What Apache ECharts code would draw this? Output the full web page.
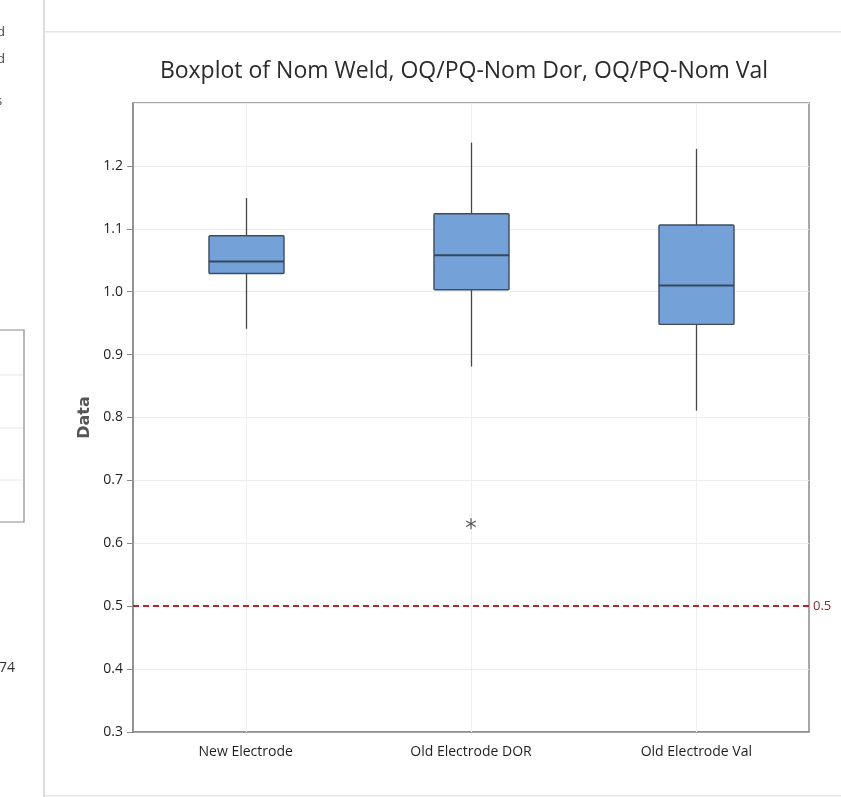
<!DOCTYPE html>
<html>
<head>
<meta charset="utf-8">
<script src="https://cdn.jsdelivr.net/npm/echarts@6/dist/echarts.min.js"></script>
<style>
html,body{margin:0;padding:0;background:#fff;}
#chart{width:841px;height:797px;}
</style>
</head>
<body>
<div id="chart"></div>
<script>
// ---- data ----
const categories = ['New Electrode', 'Old Electrode DOR', 'Old Electrode Val'];
// [lower whisker, Q1, median, Q3, upper whisker]
const newElectrode = [0.941, 1.029, 1.048, 1.089, 1.149];
const oldElectrodeDOR = [0.881, 1.003, 1.058, 1.124, 1.237];
const oldElectrodeVal = [0.811, 0.948, 1.010, 1.106, 1.227];
const outlierCategories = ['Old Electrode DOR'];
const outlierValues = [0.631];
const referenceValue = 0.5;
const yTicks = [0.3, 0.4, 0.5, 0.6, 0.7, 0.8, 0.9, 1.0, 1.1, 1.2];
const titleText = 'Boxplot of Nom Weld, OQ/PQ-Nom Dor, OQ/PQ-Nom Val';
const sideFragments = ['d', 'd', 's', '74'];

const boxStats = [newElectrode, oldElectrodeDOR, oldElectrodeVal];
const boxData = boxStats.map((s, i) => [i].concat(s));
const outlierData = outlierCategories.map((c, i) => [categories.indexOf(c), outlierValues[i]]);

const chart = echarts.init(document.getElementById('chart'), null, {renderer: 'canvas'});
const FONT = "'Open Sans', 'Noto Sans', sans-serif";
const BOX_FILL = '#74A2D8';
const BOX_EDGE = '#3e4b5e';
const WHISKER = '#464646';

function renderBox(params, api) {
  const idx = api.value(0);
  const lo = api.coord([idx, api.value(1)]);
  const q1 = api.coord([idx, api.value(2)]);
  const med = api.coord([idx, api.value(3)]);
  const q3 = api.coord([idx, api.value(4)]);
  const hi = api.coord([idx, api.value(5)]);
  const band = api.size([1, 0])[0];
  const w = band * 0.333;
  const x = Math.round(lo[0]) + 0.5;
  const left = x - w / 2;
  const cs = params.coordSys;
  return {
    type: 'group',
    children: [
      {type: 'line', z2: 0, shape: {x1: x, y1: cs.y, x2: x, y2: cs.y + cs.height}, style: {stroke: '#efefef', lineWidth: 1}},
      {type: 'line', z2: 1, shape: {x1: x, y1: hi[1], x2: x, y2: q3[1]}, style: {stroke: WHISKER, lineWidth: 1.3}},
      {type: 'line', z2: 1, shape: {x1: x, y1: q1[1], x2: x, y2: lo[1]}, style: {stroke: WHISKER, lineWidth: 1.3}},
      {type: 'rect', z2: 2, shape: {x: left, y: q3[1], width: w, height: q1[1] - q3[1], r: 1}, style: {fill: BOX_FILL, stroke: BOX_EDGE, lineWidth: 1.4}},
      {type: 'line', z2: 3, shape: {x1: left, y1: med[1], x2: left + w, y2: med[1]}, style: {stroke: '#34475f', lineWidth: 2}}
    ]
  };
}

function renderStar(params, api) {
  const c = api.coord([api.value(0), api.value(1)]);
  const r = 5.5;
  const lines = [];
  for (let k = 0; k < 3; k++) {
    const a = Math.PI / 2 + k * Math.PI / 3;
    lines.push({type: 'line', shape: {x1: c[0] - r * Math.cos(a), y1: c[1] - r * Math.sin(a), x2: c[0] + r * Math.cos(a), y2: c[1] + r * Math.sin(a)}, style: {stroke: '#555', lineWidth: 1.2}});
  }
  return {type: 'group', children: lines};
}

const option = {
  backgroundColor: '#ffffff',
  animation: false,
  title: {
    text: titleText,
    left: 459,
    top: 55,
    textAlign: 'center',
    textStyle: {fontFamily: FONT, fontSize: 23, fontWeight: 'normal', color: '#2b2b2b'}
  },
  grid: {
    left: 133, right: 32, top: 103, bottom: 65,
    show: true, borderColor: '#8a8a8a', borderWidth: 1.5, backgroundColor: '#fff'
  },
  xAxis: {
    type: 'category',
    data: categories,
    boundaryGap: true,
    axisLine: {lineStyle: {color: '#8a8a8a', width: 1.5}},
    axisTick: {alignWithLabel: true, length: 5, lineStyle: {color: '#8a8a8a'}},
    axisLabel: {fontFamily: FONT, fontSize: 14, color: '#1f1f1f', margin: 13},
    splitLine: {show: false}
  },
  yAxis: {
    type: 'value',
    min: 0.3, max: 1.3, interval: 0.1,
    name: 'Data',
    nameLocation: 'middle',
    nameGap: 37,
    nameTextStyle: {fontFamily: "'DejaVu Sans', sans-serif", fontSize: 16, fontWeight: 'bold', color: '#555'},
    axisLine: {show: true, lineStyle: {color: '#8a8a8a', width: 1.5}},
    axisTick: {show: true, length: 6, lineStyle: {color: '#8a8a8a'}},
    axisLabel: {
      fontFamily: FONT, fontSize: 14, color: '#1f1f1f', margin: 10,
      showMaxLabel: false,
      formatter: v => (yTicks.some(t => Math.abs(t - v) < 1e-6) ? v.toFixed(1) : '')
    },
    splitLine: {show: true, lineStyle: {color: '#ececec', width: 1}}
  },
  series: [
    {
      type: 'custom',
      z: 3,
      renderItem: renderBox,
      encode: {x: 0, y: [1, 2, 3, 4, 5]},
      data: boxData,
      markLine: {
        silent: true,
        symbol: 'none',
        lineStyle: {color: '#B0282C', type: [6, 4], width: 2},
        label: {show: true, position: 'end', formatter: String(referenceValue), color: '#8B2A2A', fontFamily: FONT, fontSize: 13, distance: 4},
        data: [{yAxis: referenceValue}]
      }
    },
    {
      type: 'custom',
      z: 4,
      renderItem: renderStar,
      encode: {x: 0, y: 1},
      data: outlierData
    }
  ],
  graphic: [
    {type: 'rect', shape: {x: 43, y: 0, width: 2, height: 797}, style: {fill: '#dcdcdc'}, silent: true},
    {type: 'rect', shape: {x: 45, y: 31, width: 796, height: 1.5}, style: {fill: '#e3e3e3'}, silent: true},
    {type: 'rect', shape: {x: 45, y: 795, width: 796, height: 1.5}, style: {fill: '#e6e6e6'}, silent: true},
    {type: 'rect', shape: {x: -2, y: 330, width: 26, height: 192}, style: {fill: 'none', stroke: '#8a8a8a', lineWidth: 1.2}, silent: true},
    {type: 'line', shape: {x1: 0, y1: 375, x2: 23, y2: 375}, style: {stroke: '#e6e6e6', lineWidth: 1}, silent: true},
    {type: 'line', shape: {x1: 0, y1: 428, x2: 23, y2: 428}, style: {stroke: '#e6e6e6', lineWidth: 1}, silent: true},
    {type: 'line', shape: {x1: 0, y1: 480, x2: 23, y2: 480}, style: {stroke: '#e6e6e6', lineWidth: 1}, silent: true},
    {type: 'text', x: -3, y: 26, style: {text: sideFragments[0], font: "13px " + FONT, fill: '#444'}, silent: true},
    {type: 'text', x: -3, y: 53, style: {text: sideFragments[1], font: "13px " + FONT, fill: '#444'}, silent: true},
    {type: 'text', x: -4, y: 95, style: {text: sideFragments[2], font: "13px " + FONT, fill: '#444'}, silent: true},
    {type: 'text', x: -1, y: 661, style: {text: sideFragments[3], font: "14px " + FONT, fill: '#333'}, silent: true}
  ]
};
chart.setOption(option);
</script>
</body>
</html>
